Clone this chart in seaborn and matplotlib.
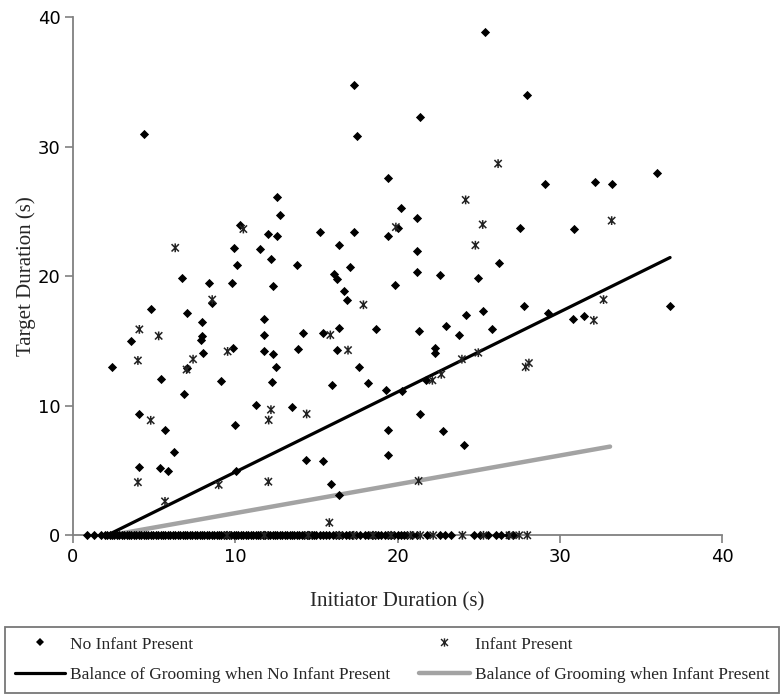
import matplotlib
matplotlib.use("Agg")
import matplotlib.pyplot as plt
from matplotlib.path import Path
from matplotlib.lines import Line2D
import seaborn as sns
import pandas as pd

# ---------------- data ----------------
# No infant present (diamonds), non-zero target durations
no_inf_x = [4.36, 12.6, 12.76, 10.3, 12.0, 12.6, 15.2, 9.94, 11.5, 10.1, 12.2, 13.8, 6.74,
            25.4, 17.3, 28.0, 21.4, 17.5, 19.4, 29.1, 20.2, 21.2, 20.0, 27.55, 17.3, 19.4,
            16.4, 21.2, 26.25, 17.1, 16.1, 16.25, 21.2, 22.6, 24.98, 32.2, 33.2, 36.0, 30.9,
            8.4, 9.82, 12.3, 8.55, 4.79, 7.0, 11.75, 7.95, 11.75, 14.2, 7.95, 3.55, 7.87,
            9.84, 8.01, 11.8, 12.3, 13.85, 7.0, 2.42, 12.5, 5.42, 12.25, 9.1, 6.86, 11.26,
            13.5, 4.07, 9.97, 5.67, 6.22, 4.07, 5.36, 5.86, 10.07, 19.87, 16.7, 16.9,
            27.8, 29.3, 25.3, 24.2, 23.0, 25.8, 23.8, 21.3, 18.7, 16.4, 15.4, 16.27, 22.3,
            22.3, 17.65, 18.16, 15.98, 19.3, 20.3, 21.76, 21.4, 19.4, 22.8, 24.1, 14.36,
            15.4, 19.4, 15.9, 16.4, 30.8, 31.5, 36.8]
no_inf_y = [31.0, 26.1, 24.7, 24.0, 23.3, 23.1, 23.4, 22.2, 22.1, 20.9, 21.3, 20.85, 19.9,
            38.9, 34.8, 34.0, 32.3, 30.8, 27.6, 27.1, 25.25, 24.5, 23.7, 23.7, 23.4, 23.1,
            22.4, 21.95, 21.0, 20.7, 20.15, 19.77, 20.3, 20.1, 19.9, 27.3, 27.15, 27.97, 23.65,
            19.5, 19.5, 19.25, 17.9, 17.5, 17.2, 16.7, 16.45, 15.5, 15.65, 15.4, 15.0, 15.1,
            14.5, 14.1, 14.2, 14.0, 14.4, 12.95, 13.0, 13.0, 12.1, 11.8, 11.9, 10.9, 10.1,
            9.9, 9.37, 8.54, 8.16, 6.46, 5.27, 5.2, 4.94, 4.97, 19.33, 18.9, 18.2,
            17.7, 17.2, 17.35, 17.0, 16.2, 15.9, 15.45, 15.8, 15.9, 16.0, 15.65, 14.3, 14.44,
            14.1, 13.0, 11.76, 11.58, 11.25, 11.14, 12.0, 9.34, 8.16, 8.05, 7.0, 5.8,
            5.74, 6.2, 3.94, 3.1, 16.7, 16.9, 17.7]
# No infant present, zero target duration (dense band along the x axis)
no_inf_zero_x = [0.85, 1.3, 1.75, 1.95, 2.1, 2.25, 2.4, 2.55, 2.7, 2.85, 3.0, 3.15, 3.3, 3.45,
                 3.6, 3.75, 3.9, 4.05, 4.2, 4.35, 4.5, 4.65, 4.8, 4.95, 5.1, 5.25, 5.4, 5.55,
                 5.7, 5.85, 6.0, 6.15, 6.3, 6.45, 6.6, 6.75, 6.9, 7.05, 7.2, 7.35, 7.5, 7.65,
                 7.8, 7.95, 8.1, 8.25, 8.4, 8.55, 8.7, 8.85, 9.0, 9.15, 9.3, 9.45, 9.6, 9.75,
                 9.9, 10.05, 10.2, 10.35, 10.5, 10.65, 10.8, 10.95, 11.1, 11.25, 11.4, 11.55,
                 11.7, 11.85, 12.0, 12.15, 12.3, 12.45, 12.6, 12.75, 12.9, 13.05, 13.2, 13.35,
                 13.5, 13.65, 13.8, 13.95, 14.1, 14.25, 14.4, 14.55, 14.7, 14.85, 15.0, 15.2,
                 15.4, 15.6, 15.8, 16.0, 16.2, 16.4, 16.6, 16.8, 17.0, 17.2, 17.45, 17.7, 18.0,
                 18.2, 18.4, 18.6, 18.8, 19.0, 19.2, 19.4, 19.6, 19.8, 20.0, 20.2, 20.4, 20.6,
                 20.9, 21.2, 21.8, 22.6, 22.9, 23.3, 24.7, 25.1, 25.6, 26.1, 26.4, 26.8, 27.1]
no_inf_zero_y = [0.0] * len(no_inf_zero_x)

# Infant present (asterisks)
inf_x = [10.5, 6.3, 26.2, 24.2, 25.25, 19.9, 24.8, 33.2, 8.58, 4.09, 5.28, 9.53, 4.0, 7.4,
         7.0, 12.2, 12.06, 14.4, 4.79, 4.0, 8.98, 12.04, 5.67, 17.9, 15.86, 16.95, 23.97,
         24.98, 28.1, 27.9, 22.15, 22.7, 21.3, 15.8, 32.1, 32.7]
inf_y = [23.65, 22.2, 28.7, 25.9, 24.0, 23.8, 22.4, 24.3, 18.2, 15.9, 15.4, 14.2, 13.5, 13.6,
         12.8, 9.7, 8.9, 9.37, 8.88, 4.1, 3.9, 4.14, 2.62, 17.8, 15.47, 14.3, 13.6,
         14.1, 13.3, 13.0, 11.97, 12.43, 4.2, 0.98, 16.6, 18.2]
inf_zero_x = [9.5, 11.8, 14.5, 16.4, 17.3, 18.5, 19.6, 20.8, 21.4, 22.2, 24.0, 25.3, 26.9,
              27.5, 28.0]
inf_zero_y = [0.0] * len(inf_zero_x)

# Balance-of-grooming lines (end points)
bal_no_inf_x = [2.1, 36.8]
bal_no_inf_y = [0.0, 21.45]
bal_inf_x = [2.3, 33.1]
bal_inf_y = [0.0, 6.85]

x_ticks = [0, 10, 20, 30, 40]
y_ticks = [0, 10, 20, 30, 40]
labels = ["No Infant Present", "Infant Present",
          "Balance of Grooming when No Infant Present",
          "Balance of Grooming when Infant Present"]

# ---------------- plot ----------------
sns.set_theme(style="white")
plt.rcParams['font.family'] = ['DejaVu Sans']

df_no = pd.DataFrame({"x": no_inf_x + no_inf_zero_x, "y": no_inf_y + no_inf_zero_y})
df_in = pd.DataFrame({"x": inf_x + inf_zero_x, "y": inf_y + inf_zero_y})

fig = plt.figure(figsize=(7.82, 6.99), dpi=100)
ax = fig.add_axes([73 / 782, 1 - 535.3 / 699, (722 - 73) / 782, (535.3 - 17.3) / 699])

ast_path = Path([(-1, -1), (1, 1), (-1, 1), (1, -1), (0, -1.2), (0, 1.2)],
                [Path.MOVETO, Path.LINETO, Path.MOVETO, Path.LINETO, Path.MOVETO, Path.LINETO])

sns.lineplot(x=bal_inf_x, y=bal_inf_y, ax=ax, color="#a3a3a3", linewidth=3.2, zorder=2)
sns.lineplot(x=bal_no_inf_x, y=bal_no_inf_y, ax=ax, color="black", linewidth=2.3, zorder=3)

sns.scatterplot(data=df_no, x="x", y="y", ax=ax, marker="D", s=22, color="black",
                linewidth=0, zorder=4, clip_on=False)
sns.scatterplot(data=df_in, x="x", y="y", ax=ax, marker=ast_path, s=40,
                facecolor="none", edgecolor="#222222", linewidth=1.1, zorder=5, clip_on=False)

ax.set_xlim(0, 40)
ax.set_ylim(0, 40)
ax.set_xticks(x_ticks)
ax.set_yticks(y_ticks)
ax.tick_params(axis="both", which="both", direction="out", length=6, width=1.2,
               color="#808080", labelsize=13, labelcolor="black", pad=3,
               bottom=True, left=True)
for side in ["top", "right"]:
    ax.spines[side].set_visible(False)
for side in ["left", "bottom"]:
    ax.spines[side].set_color("#808080")
    ax.spines[side].set_linewidth(1.3)

ax.set_xlabel("Initiator Duration (s)", family="Liberation Serif", fontsize=15, labelpad=19)
ax.set_ylabel("Target Duration (s)", family="Liberation Serif", fontsize=15, labelpad=1)

handles = [
    Line2D([], [], linestyle="none", marker="D", markersize=4.2, color="black", markeredgewidth=0),
    Line2D([], [], color="black", linewidth=2.3),
    Line2D([], [], linestyle="none", marker=ast_path, markersize=6, markerfacecolor="none",
           markeredgecolor="#222222", markeredgewidth=1.0),
    Line2D([], [], color="#a3a3a3", linewidth=3.2),
]
leg_labels = [labels[0], labels[2], labels[1], labels[3]]
leg = fig.legend(handles, leg_labels, loc="lower left",
                 bbox_to_anchor=(5 / 782, 1 - 693 / 699, 774 / 782, 76 / 699),
                 mode="expand", ncol=2, frameon=True, fancybox=False,
                 prop={"family": "Liberation Serif", "size": 12.5},
                 handlelength=2.9, handletextpad=0.3, labelspacing=0.85,
                 borderpad=0.55, borderaxespad=0)
leg.get_frame().set_edgecolor("#555555")
leg.get_frame().set_linewidth(1.3)

fig.savefig("out.png", dpi=100)
